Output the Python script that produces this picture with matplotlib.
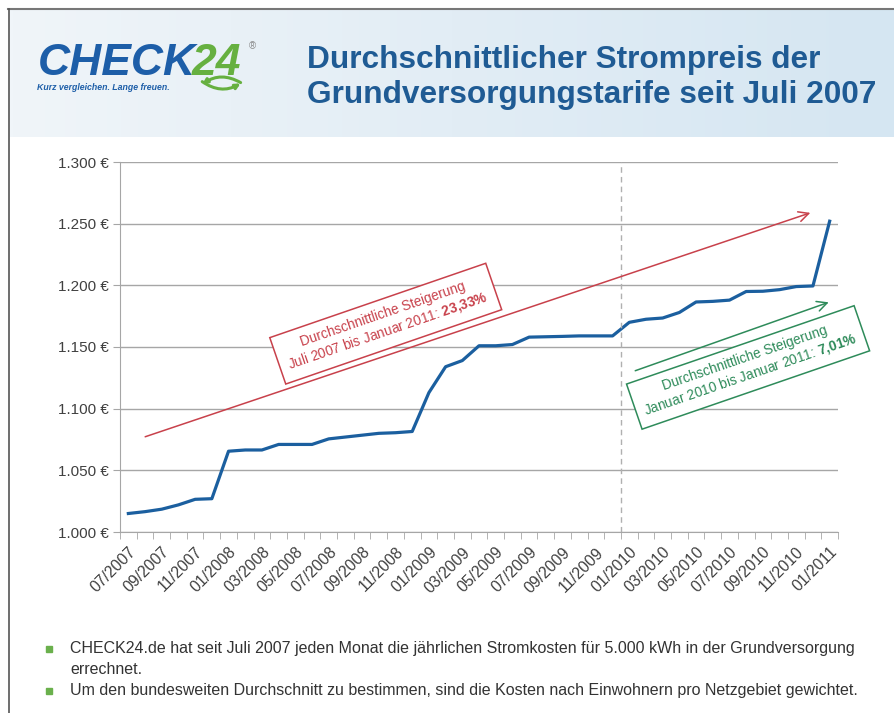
import numpy as np
import matplotlib
matplotlib.use("Agg")
import matplotlib.pyplot as plt
from matplotlib.lines import Line2D
from matplotlib.patches import Rectangle, FancyArrowPatch

plt.rcParams['font.family'] = ['Liberation Sans', 'DejaVu Sans']
plt.rcParams['mathtext.fontset'] = 'custom'
plt.rcParams['mathtext.rm'] = 'Liberation Sans'
plt.rcParams['mathtext.bf'] = 'Liberation Sans:bold'

# ------------------------------------------------------------
# Daten: jaehrliche Stromkosten (5.000 kWh), Grundversorgung
# ------------------------------------------------------------
monate = ["07/2007", "08/2007", "09/2007", "10/2007", "11/2007", "12/2007",
          "01/2008", "02/2008", "03/2008", "04/2008", "05/2008", "06/2008",
          "07/2008", "08/2008", "09/2008", "10/2008", "11/2008", "12/2008",
          "01/2009", "02/2009", "03/2009", "04/2009", "05/2009", "06/2009",
          "07/2009", "08/2009", "09/2009", "10/2009", "11/2009", "12/2009",
          "01/2010", "02/2010", "03/2010", "04/2010", "05/2010", "06/2010",
          "07/2010", "08/2010", "09/2010", "10/2010", "11/2010", "12/2010",
          "01/2011"]
kosten = [1015, 1016.5, 1018.5, 1022, 1026.5, 1027,
          1065.5, 1066.5, 1066.5, 1071, 1071, 1071,
          1075.5, 1077, 1078.5, 1080, 1080.5, 1081.5,
          1113, 1134, 1139, 1151, 1151, 1152,
          1158, 1158.3, 1158.6, 1159, 1159, 1159,
          1170, 1172.5, 1173.5, 1178, 1186.5, 1187,
          1188, 1195, 1195.2, 1196.5, 1199, 1199.5,
          1252]
y_ticks = [1000, 1050, 1100, 1150, 1200, 1250, 1300]

titel = "Durchschnittlicher Strompreis der\nGrundversorgungstarife seit Juli 2007"
text_rot = "Durchschnittliche Steigerung\nJuli 2007 bis Januar 2011: $\\mathbf{23{,}33\\%}$"
text_gruen = "Durchschnittliche Steigerung\nJanuar 2010 bis Januar 2011: $\\mathbf{7{,}01\\%}$"
hinweis_zeilen = ["CHECK24.de hat seit Juli 2007 jeden Monat die jährlichen Stromkosten für 5.000 kWh in der Grundversorgung",
                  "errechnet.",
                  "Um den bundesweiten Durchschnitt zu bestimmen, sind die Kosten nach Einwohnern pro Netzgebiet gewichtet."]
aufzaehlung = [True, False, True]

BLAU = "#1b5f9f"
ROT = "#c8414b"
GRUEN = "#2e8b5a"
W, H = 895, 713

fig = plt.figure(figsize=(W / 100, H / 100), dpi=100)

# ---------------- Kopfbereich ----------------
kopf = fig.add_axes([10 / W, 1 - 137 / H, 1 - 10 / W, 127 / H])
grad = np.linspace(0, 1, 256).reshape(1, -1)
farben = matplotlib.colors.LinearSegmentedColormap.from_list("kopf", ["#f0f5f9", "#e2edf5", "#d5e6f2"])
kopf.imshow(grad, aspect="auto", cmap=farben, extent=[0, 1, 0, 1])
kopf.axis("off")

fig.add_artist(Line2D([8 / W, 1], [1 - 9 / H, 1 - 9 / H], color="#777777", lw=1.5))
fig.add_artist(Line2D([9 / W, 9 / W], [0, 1 - 9 / H], color="#555555", lw=1.2))

# Logo
fig.text(38 / W, 1 - 75 / H, "CHECK", fontsize=32, fontweight="bold", style="italic",
         color="#1d5ea8", ha="left", va="baseline")
fig.text(192 / W, 1 - 75 / H, "24", fontsize=32, fontweight="bold", style="italic",
         color="#66b040", ha="left", va="baseline")
fig.text(249 / W, 1 - 49 / H, "®", fontsize=7, color="#888888", ha="left", va="baseline")
fig.text(37 / W, 1 - 90 / H, "Kurz vergleichen. Lange freuen.", fontsize=6.3, fontweight="bold",
         style="italic", color="#1d5ea8", ha="left", va="baseline")
for p0, p1 in [((200, 80), (243, 82)), ((243, 84), (200, 86))]:
    fig.add_artist(FancyArrowPatch((p0[0] / W, 1 - p0[1] / H), (p1[0] / W, 1 - p1[1] / H),
                                   transform=fig.transFigure, arrowstyle="-|>", mutation_scale=7,
                                   connectionstyle="arc3,rad=0.35", color="#66b040", lw=2.2))

fig.text(307 / W, 1 - 103 / H, titel, fontsize=22.8, fontweight="bold", color="#1f5b94",
         ha="left", va="baseline", linespacing=1.2)

# ---------------- Diagramm ----------------
ax = fig.add_axes([120 / W, 1 - 532 / H, 718 / W, 370 / H])
x = np.arange(len(monate))
ax.plot(x, kosten, color=BLAU, lw=2.3, solid_joinstyle="round")

ax.set_xlim(-0.5, len(monate) - 0.5)
ax.set_ylim(1000, 1300)
ax.set_yticks(y_ticks)
ax.set_yticklabels([f"{v:,.0f} €".replace(",", ".") for v in y_ticks])
ax.grid(axis="y", color="#a6a6a6", lw=1)
ax.set_axisbelow(True)
for s in ["top", "right"]:
    ax.spines[s].set_visible(False)
ax.spines["left"].set_color("#a6a6a6")
ax.spines["bottom"].set_color("#a6a6a6")
ax.tick_params(axis="y", length=5, color="#a6a6a6", labelsize=11, labelcolor="#404040", pad=3)

ax.set_xticks(x[::2])
ax.set_xticklabels(monate[::2], rotation=45, ha="right", rotation_mode="anchor",
                   fontsize=11.3, color="#404040")
ax.set_xticks(np.arange(-0.5, len(monate)), minor=True)
ax.tick_params(axis="x", which="major", length=0, pad=9)
ax.tick_params(axis="x", which="minor", length=5, color="#a6a6a6")

# Januar 2010 Markierung
ax.axvline(monate.index("01/2010") - 0.5, color="#b0b0b0", lw=1, ls=(0, (4, 3)))

# Pfeile und Beschriftungen
ax.annotate("", xy=(41, 1259.5), xytext=(0.85, 1076.5),
            arrowprops=dict(arrowstyle="->", color=ROT, lw=1.1, mutation_scale=18))
ax.text(15.4, 1169.5, text_rot, rotation=19, rotation_mode="anchor", ha="center", va="center",
        fontsize=9.8, color=ROT, linespacing=1.15,
        bbox=dict(boxstyle="square,pad=0.65", fc="white", ec=ROT, lw=1.1))

ax.annotate("", xy=(42.1, 1187), xytext=(30.2, 1130),
            arrowprops=dict(arrowstyle="->", color=GRUEN, lw=1.1, mutation_scale=18))
ax.text(37.1, 1134, text_gruen, rotation=19, rotation_mode="anchor", ha="center", va="center",
        fontsize=9.8, color=GRUEN, linespacing=1.15,
        bbox=dict(boxstyle="square,pad=0.6", fc="white", ec=GRUEN, lw=1.1))

# ---------------- Hinweise ----------------
for txt, punkt, yy in zip(hinweis_zeilen, aufzaehlung, [649, 670, 691]):
    if punkt:
        fig.add_artist(Rectangle((46 / W, 1 - (yy + 3) / H), 6 / W, 6 / H, color="#6ab04c",
                                 transform=fig.transFigure))
    fig.text(70 / W, 1 - yy / H, txt, fontsize=11.5, color="#333333", ha="left", va="center")

fig.savefig("out.png", dpi=100)
